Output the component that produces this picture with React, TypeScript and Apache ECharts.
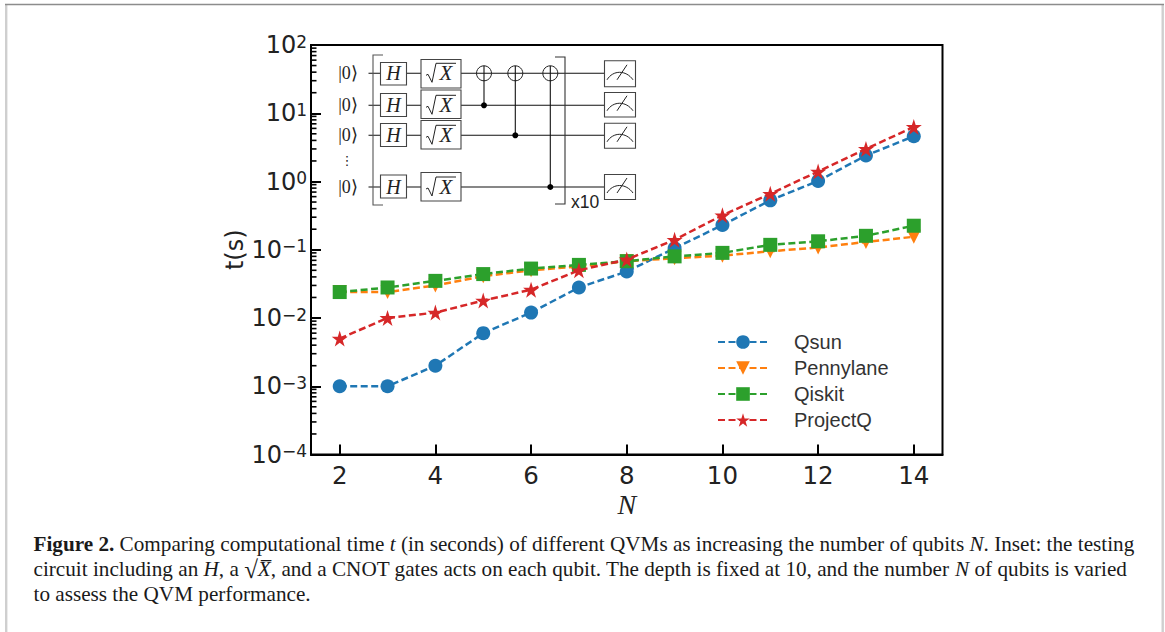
import React, { useEffect, useRef } from "react";
import * as echarts from "echarts";

const qubits = [2, 3, 4, 5, 6, 7, 8, 9, 10, 11, 12, 13, 14];
const qsun = [0.001, 0.001, 0.002, 0.006, 0.012, 0.028, 0.048, 0.105, 0.23, 0.53, 1.02, 2.4, 4.6];
const pennylane = [0.024, 0.024, 0.03, 0.041, 0.05, 0.057, 0.068, 0.075, 0.082, 0.095, 0.108, 0.13, 0.155];
const qiskit = [0.024, 0.028, 0.035, 0.044, 0.053, 0.06, 0.068, 0.08, 0.09, 0.118, 0.133, 0.16, 0.225];
const projectQ = [0.005, 0.01, 0.012, 0.018, 0.026, 0.05, 0.072, 0.14, 0.32, 0.66, 1.4, 3.0, 6.3];
const xTicks = [2, 4, 6, 8, 10, 12, 14];
const decades = [0.0001, 0.001, 0.01, 0.1, 1, 10];
const minorMultipliers = [2, 3, 4, 5, 6, 7, 8, 9];

const STAR = "path://M50 0 L61.8 36.3 L100 36.3 L69.1 58.8 L80.9 95.1 L50 72.6 L19.1 95.1 L30.9 58.8 L0 36.3 L38.2 36.3 Z";
const X_MIN = 1.4;
const X_MAX = 14.6;

const line = (x1: number, y1: number, x2: number, y2: number, w = 1.1, c = "#111") => ({
  type: "line", silent: true, shape: { x1, y1, x2, y2 }, style: { stroke: c, lineWidth: w, fill: "none" },
});
const box = (x: number, y: number, width: number, height: number) => ({
  type: "rect", silent: true, shape: { x, y, width, height }, style: { fill: "#fff", stroke: "#444", lineWidth: 1.1 },
});
const label = (x: number, y: number, text: string, font: string, align = "center", fill = "#222") => ({
  type: "text", silent: true, x, y, style: { text, font, fill, align, verticalAlign: "middle" },
});

function inset(): any[] {
  const rows = [73.3, 105.3, 135.3, 187];
  const hTop = [62.5, 93.5, 123.5, 175];
  const hH = [22.5, 23, 23, 23];
  const xTop = [59.5, 90, 120.5, 172.5];
  const xH = [28.5, 28.5, 28.5, 28.5];
  const mTop = [60.8, 92.5, 123.3, 174.5];
  const mH = [26, 24.5, 25, 25];
  const out: any[] = [];
  rows.forEach((y) => {
    out.push(line(368.5, y, 604, y));
    out.push(label(348, y, "|0⟩", "18px 'Liberation Serif'"));
  });
  rows.forEach((y, i) => {
    out.push(box(380.5, hTop[i], 26, hH[i]));
    out.push(label(393.5, y, "H", "italic 20px 'Liberation Serif'"));
    out.push(box(421, xTop[i], 40, xH[i]));
    const c = 441;
    out.push({
      type: "polyline", silent: true,
      shape: { points: [[c - 15, y + 2], [c - 13, y + 1], [c - 9, y + 9], [c - 5, y - 10], [c + 15, y - 10]] },
      style: { stroke: "#222", lineWidth: 1, fill: "none" },
    });
    out.push(label(c + 5, y, "X", "italic 21px 'Liberation Serif'"));
    out.push(box(604.5, mTop[i], 31, mH[i]));
    const my = mTop[i] + mH[i] / 2;
    out.push({
      type: "bezierCurve", silent: true,
      shape: { x1: 607, y1: my + 6, x2: 633, y2: my + 6, cpx1: 613, cpy1: my - 4, cpx2: 626, cpy2: my - 4 },
      style: { stroke: "#222", lineWidth: 1, fill: "none" },
    });
    out.push(line(617, my + 6, 627, my - 9, 1, "#222"));
  });
  [484, 515.3, 550.3].forEach((cx, i) => {
    const ctrl = rows[i + 1];
    out.push({ type: "circle", silent: true, shape: { cx, cy: rows[0], r: 7.5 }, style: { fill: "none", stroke: "#222", lineWidth: 1 } });
    out.push(line(cx, rows[0] - 7.5, cx, ctrl));
    out.push({ type: "circle", silent: true, shape: { cx, cy: ctrl, r: 3 }, style: { fill: "#000" } });
  });
  out.push({
    type: "polyline", silent: true,
    shape: { points: [[383, 55], [373, 55], [373, 205], [383, 205]] },
    style: { stroke: "#555", lineWidth: 1.1, fill: "none" },
  });
  out.push({
    type: "polyline", silent: true,
    shape: { points: [[555, 57], [565, 57], [565, 204], [555, 204]] },
    style: { stroke: "#333", lineWidth: 1.1, fill: "none" },
  });
  out.push(label(347, 160, "⋮", "13px 'DejaVu Sans'"));
  out.push(label(571, 202, "x10", "17.5px 'Liberation Sans'", "left"));
  return out;
}

const captionRich = {
  r: { font: "21.2px 'Liberation Serif'", fill: "#1a1a1a" },
  b: { font: "bold 21.2px 'Liberation Serif'", fill: "#1a1a1a" },
  i: { font: "italic 21.2px 'Liberation Serif'", fill: "#1a1a1a" },
  s: { font: "25px 'Liberation Serif'", fill: "#1a1a1a" },
};
const captionLines = [
  "{b|Figure 2.}{r| Comparing computational time }{i|t}{r| (in seconds) of different QVMs as increasing the number of qubits }{i|N}{r|. Inset: the testing}",
  "{r|circuit including an }{i|H}{r|, a }{s|√}{i|X̅}{r|, and a CNOT gates acts on each qubit. The depth is fixed at 10, and the number }{i|N}{r| of qubits is varied}",
  "{r|to assess the QVM performance.}",
];
const captionY = [544, 569, 594];

const makeSeries = (name: string, data: number[], color: string, symbol: string, size: number, z: number, rotate = 0) => ({
  name,
  type: "line",
  z,
  data: qubits.map((x, i) => [x, data[i]]),
  symbol,
  symbolSize: size,
  symbolRotate: rotate,
  showSymbol: true,
  clip: false,
  lineStyle: { color, width: 2.5, type: [7, 3.5] },
  itemStyle: { color },
});

export default function App() {
  const ref = useRef<HTMLDivElement>(null);
  useEffect(() => {
    const chart = echarts.init(ref.current!, null, { renderer: "svg" });
    const minorData = decades.flatMap((d) => minorMultipliers.map((m) => [X_MIN, d * m]));
    chart.setOption({
      animation: false,
      backgroundColor: "#fff",
      grid: {
        left: 311, top: 45, width: 631.5, height: 409.5,
        show: true, borderColor: "#000", borderWidth: 2, backgroundColor: "transparent",
      },
      xAxis: {
        type: "value", min: X_MIN, max: X_MAX,
        name: "N", nameLocation: "middle", nameGap: 36, nameMoveOverlap: false,
        nameTextStyle: { fontFamily: "Liberation Serif", fontStyle: "italic", fontSize: 28, color: "#222" },
        splitLine: { show: false },
        axisLine: { show: true, lineStyle: { color: "#000", width: 2 } },
        axisTick: { inside: true, length: 10, customValues: xTicks, lineStyle: { color: "#000", width: 2 } },
        axisLabel: { customValues: xTicks, fontFamily: "DejaVu Sans", fontSize: 24.5, color: "#222", margin: 8 },
      },
      yAxis: {
        type: "log", logBase: 10, min: 0.0001, max: 100, splitNumber: 6,
        name: "t(s)", nameLocation: "middle", nameGap: 64, nameRotate: 90, nameMoveOverlap: false,
        nameTextStyle: { fontFamily: "DejaVu Sans", fontSize: 24, color: "#222" },
        splitLine: { show: false },
        minorTick: { show: false },
        axisLine: { show: true, lineStyle: { color: "#000", width: 2 } },
        axisTick: { inside: true, length: 10, lineStyle: { color: "#000", width: 2 } },
        axisLabel: {
          margin: 4,
          formatter: (v: number) => {
            const e = Math.round(Math.log10(v));
            return `{a|10}{b|${e < 0 ? "−" + -e : e}}`;
          },
          rich: {
            a: { fontFamily: "DejaVu Sans", fontSize: 24, color: "#222", lineHeight: 24, verticalAlign: "bottom" },
            b: { fontFamily: "DejaVu Sans", fontSize: 17, color: "#222", lineHeight: 17, verticalAlign: "top", padding: [0, 0, 6, 0] },
          },
        },
      },
      legend: {
        data: ["Qsun", "Pennylane", "Qiskit", "ProjectQ"],
        orient: "vertical", left: 712, top: 327,
        itemWidth: 50, itemHeight: 17, itemGap: 6,
        textStyle: { fontFamily: "Liberation Sans", fontSize: 20, color: "#333", padding: [0, 0, 0, 21] },
        selectedMode: false,
      },
      series: [
        makeSeries("Qsun", qsun, "#1f77b4", "circle", 14, 2),
        makeSeries("Pennylane", pennylane, "#ff7f0e", "triangle", 14, 3, 180),
        makeSeries("Qiskit", qiskit, "#2ca02c", "rect", 14, 4),
        makeSeries("ProjectQ", projectQ, "#d62728", STAR, 16, 5),
        {
          name: "minor ticks",
          type: "custom",
          silent: true,
          clip: false,
          data: minorData,
          renderItem: (_p: any, api: any) => {
            const pt = api.coord([api.value(0), api.value(1)]);
            return {
              type: "line",
              shape: { x1: pt[0], y1: pt[1], x2: pt[0] + 5.5, y2: pt[1] },
              style: { stroke: "#000", lineWidth: 1.6 },
            };
          },
        },
      ],
      graphic: [
        { type: "rect", silent: true, shape: { x: 5, y: 4, width: 2.4, height: 628 }, style: { fill: "#cfcfcf" } },
        { type: "rect", silent: true, shape: { x: 1161.5, y: 4, width: 2.4, height: 628 }, style: { fill: "#cfcfcf" } },
        { type: "rect", silent: true, shape: { x: 5, y: 3.8, width: 1159, height: 1.4 }, style: { fill: "#8c8c8c" } },
        ...inset(),
        ...captionLines.map((text, i) => ({
          type: "text", silent: true, x: 33.5, y: captionY[i],
          style: { text, rich: captionRich, font: "21.2px 'Liberation Serif'", verticalAlign: "middle", align: "left" },
        })),
      ],
    });
    return () => chart.dispose();
  }, []);
  return <div ref={ref} style={{ position: "fixed", left: 0, top: 0, width: 1165, height: 632, overflow: "hidden" }} />;
}
